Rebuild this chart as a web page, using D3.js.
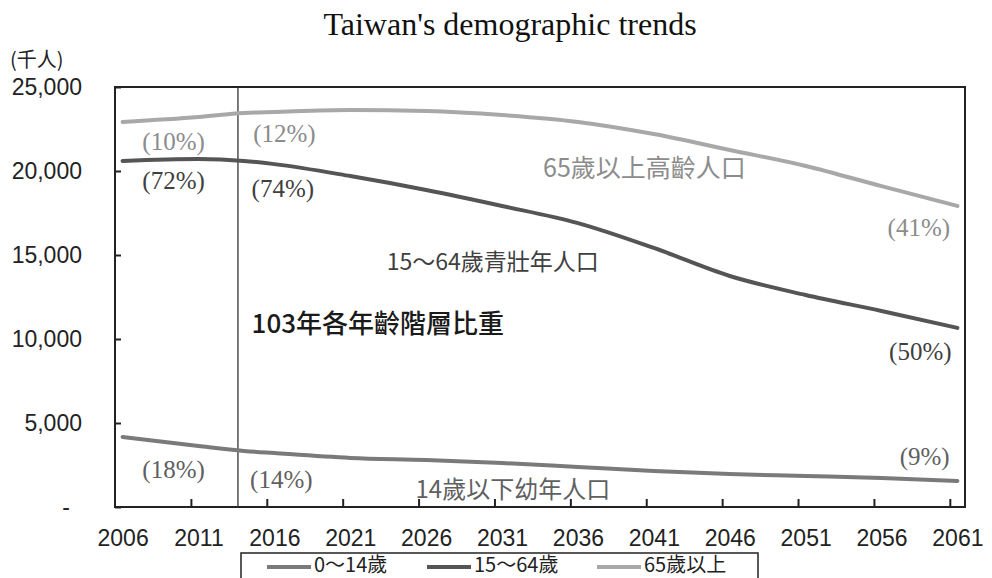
<!DOCTYPE html>
<html>
<head>
<meta charset="utf-8">
<script src="https://cdn.jsdelivr.net/npm/d3@7"></script>
<style>
  body { margin: 0; background: #fff; }
  svg { display: block; }
  .cjk { font-family: "Noto Sans CJK TC", "Noto Sans", sans-serif; }
  .num { font-family: "Liberation Sans", Arial, sans-serif; }
  .pct { font-family: "Liberation Serif", "Times New Roman", serif; }
</style>
</head>
<body>
<div id="chart"></div>
<script>
/*
 * Taiwan's demographic trends (stacked population lines, thousands)
 */

// years
var years = [2006, 2011, 2014, 2016, 2021, 2026, 2031, 2036, 2041, 2046, 2051, 2056, 2061];

// population by age group, thousands of people
var children = [4170, 3630, 3340, 3210, 2920, 2800, 2620, 2380, 2140, 1960, 1850, 1730, 1550];
var working  = [16430, 17080, 17260, 17200, 16780, 16070, 15300, 14520, 13280, 11790, 10770, 9940, 9110];
var elderly  = [2320, 2500, 2850, 3100, 3930, 4700, 5410, 6020, 6780, 7500, 7680, 7430, 7260];

var groupNames = ["0～14歲", "15～64歲", "65歲以上"];
var groupLabels = ["14歲以下幼年人口", "15～64歲青壯年人口", "65歲以上高齡人口"];

// shares (%) printed on the chart: 2006, 2014 (ROC year 103), 2061
var pct2006 = [18, 72, 10];
var pct2014 = [14, 74, 12];
var pct2061 = [9, 50, 41];

var yTicks = [0, 5000, 10000, 15000, 20000, 25000];
var xLabelYears = [2006, 2011, 2016, 2021, 2026, 2031, 2036, 2041, 2046, 2051, 2056, 2061];
var refYear = 2014;

var colors = ["#7a7a7a", "#555555", "#a8a8a8"];
var textColors = ["#606060", "#404040", "#8c8c8c"];

var width = 992, height = 578;
var svg = d3.select("#chart").append("svg").attr("width", width).attr("height", height);

var x = d3.scaleLinear().domain([years[0] - 0.5, years[years.length - 1] + 0.5]).range([115, 965]);
var y = d3.scaleLinear().domain([0, 25000]).range([507, 87]);
var step = x(1) - x(0);

// stack the groups: each line is a running total
var groups = [children, working, elderly];
var stacked = [];
var running = years.map(function(){ return 0; });
groups.forEach(function(g){
  running = running.map(function(v, i){ return v + g[i]; });
  stacked.push(running.slice());
});

// title
svg.append("text").attr("x", 510).attr("y", 35).attr("text-anchor", "middle")
  .style("font-family", "'Liberation Serif', 'Times New Roman', serif").style("font-size", "32px").style("fill", "#111")
  .text("Taiwan's demographic trends");

// unit
svg.append("text").attr("class", "cjk").attr("x", 10).attr("y", 67)
  .style("font-size", "20px").style("fill", "#222").text("(千人)");

// y axis (ticks pointing into the plot)
var yAxis = d3.axisLeft(y).tickValues(yTicks).tickSizeInner(-6).tickSizeOuter(0).tickPadding(33)
  .tickFormat(function(d){ return d === 0 ? "-" : d3.format(",")(d); });
var gy = svg.append("g").attr("transform", "translate(" + x.range()[0] + ",0)").call(yAxis);
gy.selectAll("text").attr("class", "num").style("font-size", "23px").style("fill", "#222");
gy.selectAll("text").filter(function(d){ return d === 0; }).attr("dx", -12);
gy.selectAll("line").attr("stroke", "#222").attr("stroke-width", 2);
gy.select(".domain").remove();

// x axis labels at category centres
var xAxis = d3.axisBottom(x).tickValues(xLabelYears).tickSize(0).tickPadding(23).tickFormat(d3.format("d"));
var gx = svg.append("g").attr("transform", "translate(0," + y(0) + ")").call(xAxis);
gx.selectAll("text").attr("class", "num").style("font-size", "23px").style("fill", "#222");
gx.select(".domain").remove();

// x tick marks between categories
var xTickAxis = d3.axisBottom(x).tickValues(xLabelYears.slice(1).map(function(d){ return d - 0.5; }))
  .tickSizeInner(-8).tickSizeOuter(0).tickFormat("");
var gxt = svg.append("g").attr("transform", "translate(0," + y(0) + ")").call(xTickAxis);
gxt.selectAll("line").attr("stroke", "#222").attr("stroke-width", 2);
gxt.select(".domain").remove();

// plot frame
svg.append("rect").attr("x", x.range()[0]).attr("y", y(25000))
  .attr("width", x.range()[1] - x.range()[0]).attr("height", y(0) - y(25000))
  .attr("fill", "none").attr("stroke", "#222").attr("stroke-width", 2);

// reference line for 2014
svg.append("line").attr("x1", x(refYear) - step * 0.4).attr("x2", x(refYear) - step * 0.4)
  .attr("y1", y(25000)).attr("y2", y(0)).attr("stroke", "#333").attr("stroke-width", 1.3);

// the three lines
var line = d3.line().x(function(d, i){ return x(years[i]); }).y(function(d){ return y(d); })
  .curve(d3.curveMonotoneX);
stacked.forEach(function(s, k){
  svg.append("path").attr("d", line(s)).attr("fill", "none")
    .attr("stroke", colors[k]).attr("stroke-width", 4).attr("stroke-linecap", "round");
});

// annotations: [group, text, year, value, class, size]
var notes = [
  [2, "(" + pct2006[2] + "%)", 2007.3, 21250, "pct", 25],
  [1, "(" + pct2006[1] + "%)", 2007.3, 18930, "pct", 25],
  [0, "(" + pct2006[0] + "%)", 2007.3, 1730, "pct", 25],
  [2, "(" + pct2014[2] + "%)", 2014.6, 21730, "pct", 25],
  [1, "(" + pct2014[1] + "%)", 2014.5, 18450, "pct", 25],
  [0, "(" + pct2014[0] + "%)", 2014.4, 1130, "pct", 25],
  [2, "(" + pct2061[2] + "%)", 2056.4, 16130, "pct", 25],
  [1, "(" + pct2061[1] + "%)", 2056.5, 8750, "pct", 25],
  [0, "(" + pct2061[0] + "%)", 2057.2, 2500, "pct", 25],
  [2, groupLabels[2], 2033.7, 19640, "cjk", 25],
  [1, groupLabels[1], 2023.4, 14110, "cjk", 23],
  [0, groupLabels[0], 2025.3, 540, "cjk", 24]
];
notes.forEach(function(n){
  svg.append("text").attr("class", n[4]).attr("x", x(n[2])).attr("y", y(n[3]))
    .style("font-size", n[5] + "px").style("fill", textColors[n[0]]).text(n[1]);
});

svg.append("text").attr("class", "cjk").attr("x", x(2014.5)).attr("y", y(10360))
  .style("font-size", "26px").style("fill", "#1a1a1a").style("font-weight", 500).text("103年各年齡階層比重");

// legend
var legend = svg.append("g");
legend.append("rect").attr("x", 241).attr("y", 553).attr("width", 517).attr("height", 40)
  .attr("fill", "#fff").attr("stroke", "#222").attr("stroke-width", 1.5);
var legendX = [267, 427, 597];
groupNames.forEach(function(name, k){
  legend.append("line").attr("x1", legendX[k]).attr("x2", legendX[k] + 44).attr("y1", 567).attr("y2", 567)
    .attr("stroke", colors[k]).attr("stroke-width", 4);
  legend.append("text").attr("class", "cjk").attr("x", legendX[k] + 47).attr("y", 572)
    .style("font-size", "20px").style("fill", "#222").text(name);
});
</script>
</body>
</html>
